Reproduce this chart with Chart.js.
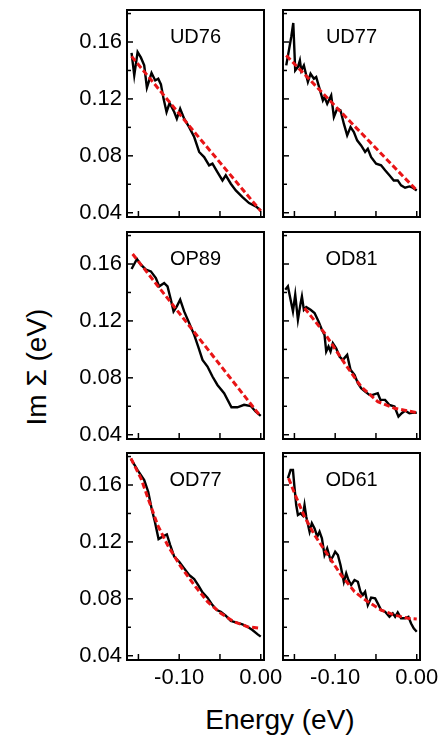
<!DOCTYPE html>
<html>
<head>
<meta charset="utf-8">
<script src="https://cdn.jsdelivr.net/npm/chart.js@4.4.0/dist/chart.umd.min.js"></script>
<style>
    body {
        margin: 0;
        width: 438px;
        height: 741px;
        position: relative;
        overflow: hidden;
        background: #fff;
        font-family: "Liberation Sans", Arial, sans-serif;
        color: #000;
    }
    .panel { position: absolute; }
    .panel canvas { display: block; }
    .tag {
        position: absolute;
        font-size: 20px;
        line-height: 20px;
        transform: translate(-50%, -50%);
        white-space: nowrap;
    }
    #ylab {
        position: absolute;
        left: 37px;
        top: 367px;
        font-size: 28px;
        line-height: 28px;
        white-space: nowrap;
        transform: translate(-50%, -50%) rotate(-90deg);
    }
    #xlab {
        position: absolute;
        left: 280px;
        top: 706px;
        font-size: 28px;
        line-height: 28px;
        white-space: nowrap;
        transform: translateX(-50%);
    }
</style>
</head>
<body>
<div id="ylab">Im Σ (eV)</div>
<div id="xlab">Energy (eV)</div>

<script>
// ticks
const xTickValues = [-0.15, -0.10, -0.05, 0.00];
const xTickLabels = ["-0.10", "0.00"];
const yTickValues = [0.04, 0.06, 0.08, 0.10, 0.12, 0.14, 0.16, 0.18];
const yTickLabels = ["0.04", "0.08", "0.12", "0.16"];
const X_MIN = -0.164, X_MAX = 0.004;
const Y_MIN = 0.037, Y_MAX = 0.1825;

// UD76
const ud76E = [-0.1584, -0.1551, -0.1510, -0.1469, -0.1429, -0.1396, -0.1339, -0.1294, -0.1257, -0.1224, -0.1192, -0.1155, -0.1118, -0.1061, -0.1029, -0.0988, -0.0939, -0.0878, -0.0816, -0.0755, -0.0694, -0.0633, -0.0592, -0.0531, -0.0469, -0.0429, -0.0367, -0.0306, -0.0224, -0.0143, -0.0061, 0];
const ud76Im = [0.1523, 0.1366, 0.1530, 0.1490, 0.1436, 0.1279, 0.1382, 0.1330, 0.1342, 0.1302, 0.1202, 0.1108, 0.1171, 0.1108, 0.1061, 0.1131, 0.1061, 0.1002, 0.0932, 0.0827, 0.0791, 0.0733, 0.0745, 0.0686, 0.0627, 0.0663, 0.0604, 0.0557, 0.0510, 0.0468, 0.0445, 0.0417];
const ud76FitE = [-0.1584, -0.0800, 0];
const ud76FitIm = [0.1499, 0.0958, 0.0412];

// UD77
const ud77E = [-0.1600, -0.1539, -0.1514, -0.1490, -0.1457, -0.1433, -0.1416, -0.1384, -0.1355, -0.1335, -0.1302, -0.1261, -0.1233, -0.1192, -0.1151, -0.1131, -0.1098, -0.1049, -0.1016, -0.0976, -0.0935, -0.0894, -0.0853, -0.0812, -0.0771, -0.0731, -0.0682, -0.0633, -0.0600, -0.0559, -0.0498, -0.0437, -0.0388, -0.0335, -0.0282, -0.0233, -0.0192, -0.0143, -0.0090, -0.0049, 0];
const ud77Im = [0.1436, 0.1635, 0.1734, 0.1400, 0.1424, 0.1471, 0.1400, 0.1436, 0.1366, 0.1319, 0.1377, 0.1342, 0.1354, 0.1272, 0.1190, 0.1213, 0.1166, 0.1225, 0.1073, 0.1131, 0.1120, 0.1026, 0.0944, 0.1002, 0.0967, 0.0909, 0.0873, 0.0827, 0.0850, 0.0791, 0.0745, 0.0733, 0.0698, 0.0663, 0.0627, 0.0627, 0.0592, 0.0576, 0.0585, 0.0576, 0.0557];
const ud77FitE = [-0.1600, -0.0800, 0];
const ud77FitIm = [0.1506, 0.1031, 0.0557];

// OP89
const op89E = [-0.1584, -0.1518, -0.1469, -0.1408, -0.1347, -0.1286, -0.1245, -0.1184, -0.1143, -0.1102, -0.1069, -0.1029, -0.0988, -0.0939, -0.0878, -0.0816, -0.0767, -0.0714, -0.0653, -0.0592, -0.0531, -0.0449, -0.0359, -0.0286, -0.0204, -0.0122, -0.0061, 0];
const op89Im = [0.1565, 0.1635, 0.1595, 0.1560, 0.1548, 0.1501, 0.1443, 0.1466, 0.1443, 0.1349, 0.1267, 0.1302, 0.1349, 0.1267, 0.1185, 0.1102, 0.1020, 0.0926, 0.0879, 0.0809, 0.0750, 0.0692, 0.0593, 0.0593, 0.0610, 0.0602, 0.0562, 0.0532];
const op89FitE = [-0.1571, -0.0800, 0];
const op89FitIm = [0.1670, 0.1110, 0.0527];

// OD81
const od81E = [-0.1612, -0.1580, -0.1547, -0.1518, -0.1490, -0.1457, -0.1424, -0.1408, -0.1384, -0.1355, -0.1302, -0.1253, -0.1204, -0.1163, -0.1131, -0.1110, -0.1082, -0.1057, -0.1029, -0.0988, -0.0947, -0.0906, -0.0853, -0.0812, -0.0763, -0.0722, -0.0682, -0.0633, -0.0580, -0.0539, -0.0478, -0.0445, -0.0388, -0.0335, -0.0273, -0.0224, -0.0184, -0.0143, -0.0090, -0.0037, 0];
const od81Im = [0.1419, 0.1443, 0.1349, 0.1267, 0.1384, 0.1208, 0.1325, 0.1372, 0.1278, 0.1297, 0.1278, 0.1255, 0.1196, 0.1138, 0.1102, 0.0985, 0.1020, 0.0985, 0.1044, 0.1008, 0.0950, 0.0926, 0.0961, 0.0856, 0.0821, 0.0762, 0.0727, 0.0703, 0.0680, 0.0680, 0.0692, 0.0645, 0.0645, 0.0609, 0.0598, 0.0527, 0.0551, 0.0569, 0.0551, 0.0555, 0.0555];
const od81FitE = [-0.1376, -0.1130, -0.0886, -0.0682, -0.0478, -0.0273, 0];
const od81FitIm = [0.1290, 0.1114, 0.0903, 0.0738, 0.0633, 0.0586, 0.0555];

// OD77
const od77E = [-0.1592, -0.1510, -0.1429, -0.1380, -0.1339, -0.1298, -0.1253, -0.1204, -0.1151, -0.1110, -0.1061, -0.1000, -0.0939, -0.0878, -0.0816, -0.0767, -0.0714, -0.0653, -0.0592, -0.0539, -0.0490, -0.0429, -0.0367, -0.0306, -0.0224, -0.0163, -0.0102, -0.0041, 0];
const od77Im = [0.1783, 0.1705, 0.1635, 0.1553, 0.1436, 0.1342, 0.1220, 0.1237, 0.1253, 0.1178, 0.1096, 0.1061, 0.1014, 0.0967, 0.0939, 0.0897, 0.0845, 0.0808, 0.0756, 0.0721, 0.0709, 0.0681, 0.0644, 0.0634, 0.0620, 0.0604, 0.0581, 0.0552, 0.0534];
const od77FitE = [-0.1592, -0.1469, -0.1367, -0.1265, -0.1143, -0.0980, -0.0816, -0.0653, -0.0490, -0.0327, -0.0163, 0];
const od77FitIm = [0.1787, 0.1647, 0.1483, 0.1319, 0.1178, 0.1026, 0.0897, 0.0780, 0.0698, 0.0639, 0.0604, 0.0592];

// OD61
const od61E = [-0.1580, -0.1547, -0.1518, -0.1498, -0.1478, -0.1457, -0.1424, -0.1396, -0.1376, -0.1355, -0.1314, -0.1286, -0.1253, -0.1220, -0.1192, -0.1163, -0.1131, -0.1098, -0.1057, -0.1029, -0.1000, -0.0967, -0.0935, -0.0894, -0.0865, -0.0837, -0.0804, -0.0763, -0.0722, -0.0690, -0.0661, -0.0633, -0.0600, -0.0559, -0.0510, -0.0478, -0.0437, -0.0388, -0.0335, -0.0294, -0.0265, -0.0233, -0.0192, -0.0143, -0.0102, -0.0069, -0.0037, 0];
const od61Im = [0.1647, 0.1705, 0.1705, 0.1577, 0.1459, 0.1389, 0.1401, 0.1384, 0.1459, 0.1377, 0.1272, 0.1331, 0.1295, 0.1237, 0.1272, 0.1225, 0.1108, 0.1155, 0.1073, 0.1096, 0.1131, 0.1108, 0.1038, 0.0920, 0.0979, 0.0932, 0.0897, 0.0932, 0.0920, 0.0850, 0.0827, 0.0850, 0.0756, 0.0808, 0.0803, 0.0768, 0.0721, 0.0709, 0.0674, 0.0698, 0.0674, 0.0705, 0.0663, 0.0663, 0.0674, 0.0627, 0.0592, 0.0569];
const od61FitE = [-0.1571, -0.1498, -0.1376, -0.1253, -0.1090, -0.0927, -0.0763, -0.0600, -0.0437, -0.0273, -0.0110, 0];
const od61FitIm = [0.1647, 0.1541, 0.1377, 0.1248, 0.1108, 0.0967, 0.0850, 0.0780, 0.0721, 0.0686, 0.0663, 0.0658];

const panels = [
    { name: "UD76", col: 0, row: 0, e: ud76E, im: ud76Im, fe: ud76FitE, fi: ud76FitIm },
    { name: "UD77", col: 1, row: 0, e: ud77E, im: ud77Im, fe: ud77FitE, fi: ud77FitIm },
    { name: "OP89", col: 0, row: 1, e: op89E, im: op89Im, fe: op89FitE, fi: op89FitIm },
    { name: "OD81", col: 1, row: 1, e: od81E, im: od81Im, fe: od81FitE, fi: od81FitIm },
    { name: "OD77", col: 0, row: 2, e: od77E, im: od77Im, fe: od77FitE, fi: od77FitIm },
    { name: "OD61", col: 1, row: 2, e: od61E, im: od61Im, fe: od61FitE, fi: od61FitIm },
];

// plot-area placement
const colLeft = [127, 283];
const rowTop = [10, 232, 453];
const AREA_W = 137;
const AREA_H = 207;

Chart.defaults.font.family = '"Liberation Sans", Arial, sans-serif';
Chart.defaults.color = "#000";

const toPoints = (xs, ys) => xs.map((x, i) => ({ x: x, y: ys[i] }));
const fmt = (v) => v.toFixed(2);

// box frame + inward tick marks
const framePlugin = {
    id: "frame",
    afterDraw(chart) {
        const { ctx, chartArea: a, scales } = chart;
        ctx.save();
        ctx.strokeStyle = "#000";
        ctx.lineWidth = 1.5;
        scales.x.ticks.forEach((t) => {
            const x = scales.x.getPixelForValue(t.value);
            ctx.beginPath();
            ctx.moveTo(x, a.bottom);
            ctx.lineTo(x, a.bottom - 6);
            ctx.stroke();
        });
        scales.y.ticks.forEach((t) => {
            const y = scales.y.getPixelForValue(t.value);
            const len = yTickLabels.includes(fmt(t.value)) ? 6 : 4;
            ctx.beginPath();
            ctx.moveTo(a.left, y);
            ctx.lineTo(a.left + len, y);
            ctx.stroke();
        });
        ctx.lineWidth = 2;
        ctx.strokeRect(a.left, a.top, a.right - a.left, a.bottom - a.top);
        ctx.restore();
    },
};

panels.forEach((p) => {
    const padL = p.col === 0 ? 62 : 6;
    const padR = p.row === 2 ? 24 : 6;
    const padT = 6;
    const padB = p.row === 2 ? 32 : 6;

    const box = document.createElement("div");
    box.className = "panel";
    box.style.left = colLeft[p.col] - padL + "px";
    box.style.top = rowTop[p.row] - padT + "px";
    const canvas = document.createElement("canvas");
    canvas.width = AREA_W + padL + padR;
    canvas.height = AREA_H + padT + padB;
    box.appendChild(canvas);
    document.body.appendChild(box);

    const tag = document.createElement("div");
    tag.className = "tag";
    tag.textContent = p.name;
    tag.style.left = colLeft[p.col] + AREA_W / 2 + "px";
    tag.style.top = rowTop[p.row] + 26 + "px";
    document.body.appendChild(tag);

    new Chart(canvas, {
        type: "line",
        data: {
            datasets: [
                {
                    data: toPoints(p.fe, p.fi),
                    borderColor: "rgb(232, 20, 22)",
                    borderWidth: 3,
                    borderDash: [6, 3],
                    pointRadius: 0,
                    tension: 0,
                    order: 0,
                },
                {
                    data: toPoints(p.e, p.im),
                    borderColor: "#000",
                    borderWidth: 2.4,
                    pointRadius: 0,
                    tension: 0,
                    order: 1,
                },
            ],
        },
        options: {
            responsive: false,
            animation: false,
            plugins: { legend: { display: false }, tooltip: { enabled: false } },
            layout: {
                autoPadding: false,
                padding: {
                    left: p.col === 0 ? 0 : padL,
                    right: padR,
                    top: padT,
                    bottom: p.row === 2 ? 0 : padB,
                },
            },
            scales: {
                x: {
                    type: "linear",
                    min: X_MIN,
                    max: X_MAX,
                    grid: { display: false, drawTicks: false },
                    border: { display: false },
                    afterBuildTicks: (s) => {
                        s.ticks = xTickValues.map((v) => ({ value: v }));
                    },
                    afterFit: (s) => {
                        s.height = p.row === 2 ? padB : 0;
                        s.paddingLeft = 0;
                        s.paddingRight = 0;
                    },
                    ticks: {
                        display: p.row === 2,
                        autoSkip: false,
                        maxRotation: 0,
                        padding: 5,
                        font: { size: 22 },
                        callback: (v) => (xTickLabels.includes(fmt(v)) ? fmt(v) : ""),
                    },
                },
                y: {
                    type: "linear",
                    min: Y_MIN,
                    max: Y_MAX,
                    grid: { display: false, drawTicks: false },
                    border: { display: false },
                    afterBuildTicks: (s) => {
                        s.ticks = yTickValues.map((v) => ({ value: v }));
                    },
                    afterFit: (s) => {
                        s.width = p.col === 0 ? padL : 0;
                        s.paddingTop = 0;
                        s.paddingBottom = 0;
                    },
                    ticks: {
                        display: p.col === 0,
                        autoSkip: false,
                        padding: 5,
                        font: { size: 22 },
                        callback: (v) => (yTickLabels.includes(fmt(v)) ? fmt(v) : ""),
                    },
                },
            },
        },
        plugins: [framePlugin],
    });
});
</script>
</body>
</html>
